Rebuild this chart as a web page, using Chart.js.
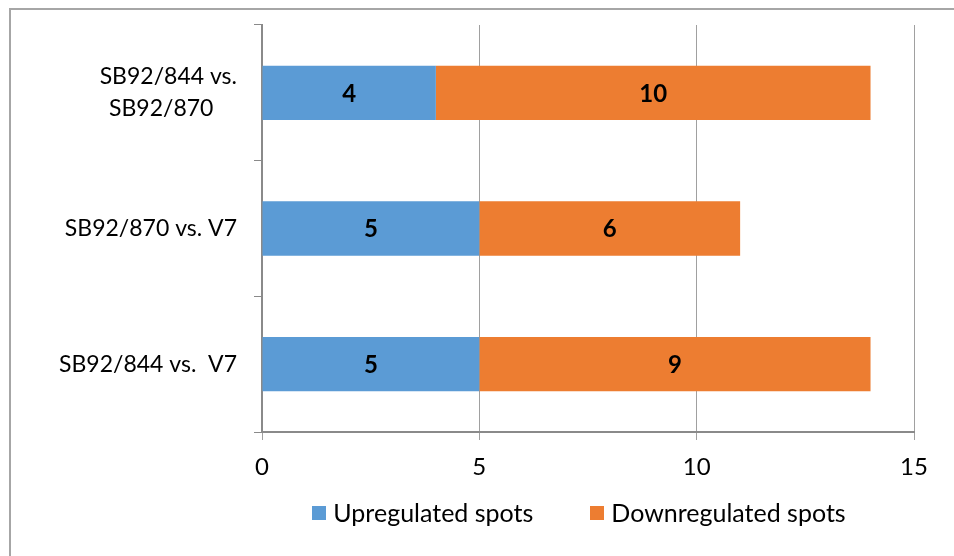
<!DOCTYPE html>
<html>
<head>
<meta charset="utf-8">
<script src="https://cdn.jsdelivr.net/npm/chart.js@4/dist/chart.umd.min.js"></script>
<style>
  html, body { margin: 0; padding: 0; background: #fff; }
  #wrap { width: 954px; height: 556px; }
</style>
</head>
<body>
<div id="wrap"><canvas id="c" width="954" height="556"></canvas></div>
<script>
// Comparison labels (top to bottom) and spot counts per comparison
const categories = [
  ['SB92/844 vs.', 'SB92/870    '],
  'SB92/870 vs. V7',
  'SB92/844 vs.  V7'
];
const upregulated = [4, 5, 5];
const downregulated = [10, 6, 9];
const seriesNames = ['Upregulated spots', 'Downregulated spots'];
const xTicks = [0, 5, 10, 15];

const FONT = 'Lato, "Open Sans", sans-serif';

// Frame line along the top and left edge of the figure
const framePlugin = {
  id: 'frame',
  beforeDraw(chart) {
    const ctx = chart.ctx;
    ctx.save();
    ctx.strokeStyle = '#a6a6a6';
    ctx.lineWidth = 2;
    ctx.beginPath();
    ctx.moveTo(954, 9);
    ctx.lineTo(10, 9);
    ctx.lineTo(10, 556);
    ctx.stroke();
    ctx.restore();
  }
};

// Bold value written in the middle of each bar segment
const valueLabels = {
  id: 'valueLabels',
  afterDatasetsDraw(chart) {
    const ctx = chart.ctx;
    ctx.save();
    ctx.font = 'bold 24px ' + FONT;
    ctx.fillStyle = '#000';
    ctx.textAlign = 'center';
    ctx.textBaseline = 'middle';
    chart.data.datasets.forEach((ds, di) => {
      chart.getDatasetMeta(di).data.forEach((bar, i) => {
        const p = bar.getCenterPoint();
        ctx.fillText(String(ds.data[i]), p.x, p.y + 1);
      });
    });
    ctx.restore();
  }
};

// Series key centred under the plot: square swatch followed by the series name
const seriesKey = {
  id: 'seriesKey',
  afterDraw(chart) {
    const ctx = chart.ctx;
    const box = 14, gap = 7, between = 57, midY = 513, centreX = 579;
    ctx.save();
    ctx.font = '25px ' + FONT;
    ctx.textBaseline = 'middle';
    ctx.textAlign = 'left';
    const items = chart.data.datasets.map(ds => ({
      text: ds.label, color: ds.backgroundColor, w: ctx.measureText(ds.label).width
    }));
    const total = items.reduce((s, it) => s + box + gap + it.w, 0) + between * (items.length - 1);
    let x = centreX - total / 2;
    items.forEach(it => {
      ctx.fillStyle = it.color;
      ctx.fillRect(Math.round(x), midY - 7, box, box);
      ctx.fillStyle = '#000';
      ctx.fillText(it.text, x + box + gap, midY + 1);
      x += box + gap + it.w + between;
    });
    ctx.restore();
  }
};

new Chart(document.getElementById('c'), {
  type: 'bar',
  data: {
    labels: categories,
    datasets: [
      { label: seriesNames[0], data: upregulated, backgroundColor: '#5B9BD5' },
      { label: seriesNames[1], data: downregulated, backgroundColor: '#ED7D31' }
    ]
  },
  options: {
    indexAxis: 'y',
    responsive: false,
    animation: false,
    events: [],
    layout: { padding: { top: 25, right: 40, bottom: 68, left: 0 } },
    datasets: { bar: { categoryPercentage: 1.0, barPercentage: 0.4 } },
    scales: {
      x: {
        stacked: true,
        min: 0,
        max: 15,
        afterBuildTicks(scale) { scale.ticks = xTicks.map(v => ({ value: v })); },
        afterFit(scale) { scale.height = 56; scale.paddingLeft = 0; scale.paddingRight = 0; },
        grid: { color: '#a0a0a0', lineWidth: 1, tickLength: 8, drawTicks: true },
        border: { color: '#8a8a8a', width: 2 },
        ticks: { color: '#000', font: { family: FONT, size: 24 }, padding: 13 }
      },
      y: {
        stacked: true,
        afterFit(scale) { scale.width = 262; scale.paddingTop = 0; scale.paddingBottom = 0; },
        grid: { drawOnChartArea: false, color: '#8a8a8a', tickLength: 8, drawTicks: true },
        border: { color: '#8a8a8a', width: 2 },
        ticks: { color: '#000', font: { family: FONT, size: 23, lineHeight: 1.4 }, padding: 17 }
      }
    },
    plugins: {
      legend: { display: false },
      tooltip: { enabled: false }
    }
  },
  plugins: [framePlugin, valueLabels, seriesKey]
});
</script>
</body>
</html>
